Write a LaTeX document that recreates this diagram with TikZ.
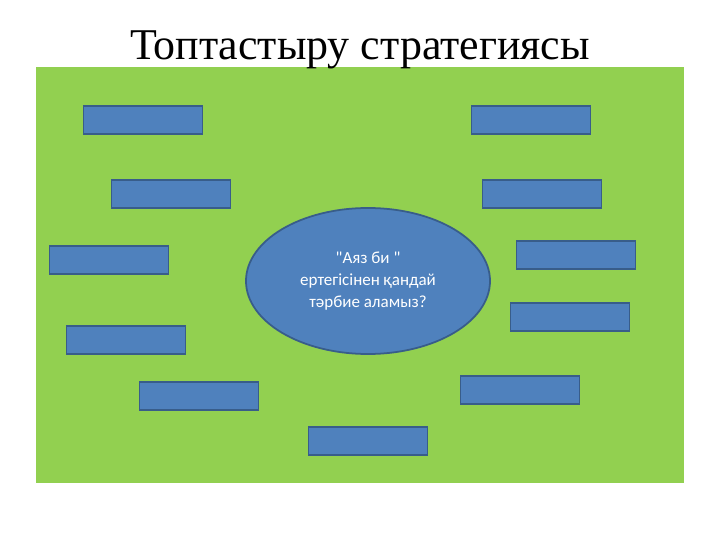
\documentclass[tikz,border=0pt]{standalone}
\usepackage{fontspec}
\setmainfont{Liberation Serif}
\newfontfamily\bodyfont{Carlito}
\usetikzlibrary{shapes.geometric}
\definecolor{fonjasyl}{HTML}{92D050}
\definecolor{kok}{HTML}{4F81BD}
\definecolor{shekara}{HTML}{385D8A}
\begin{document}
\begin{tikzpicture}[x=0.03cm, y=-0.03cm,
				% --- Styles ---
				kartochka/.style={
					draw=shekara,
					fill=kok,
					line width=1.5pt,
					minimum width=3.57cm,
					minimum height=0.84cm
				},
				sural/.style={
					draw=shekara,
					ellipse,
					fill=kok,
					line width=1.5pt,
					minimum width=7.32cm,
					minimum height=4.38cm,
					text=white,
					align=center,
					font=\bodyfont\fontsize{14.5}{19}\selectfont
				}
				]
				\useasboundingbox (0,0) rectangle (720,540);
				\fill[fonjasyl] (36,67) rectangle (684,483);
				\node[font=\fontsize{37.5}{40}\selectfont] (title) at (360,50) {Топтастыру стратегиясы};
				
				% Central question
				\node[sural] (center) at (368,281) {"Аяз би "\\ертегісінен қандай\\тәрбие аламыз?};
				
				% Empty cards around it
				\foreach \name/\px/\py in {k1/143/120, k2/171/194, k3/109/260, k4/126/340,
					k5/199/396, k6/368/441, k7/520/390, k8/570/317, k9/576/255,
					k10/542/194, k11/531/120}
				\node[kartochka] (\name) at (\px,\py) {};
				
			\end{tikzpicture}
\end{document}
